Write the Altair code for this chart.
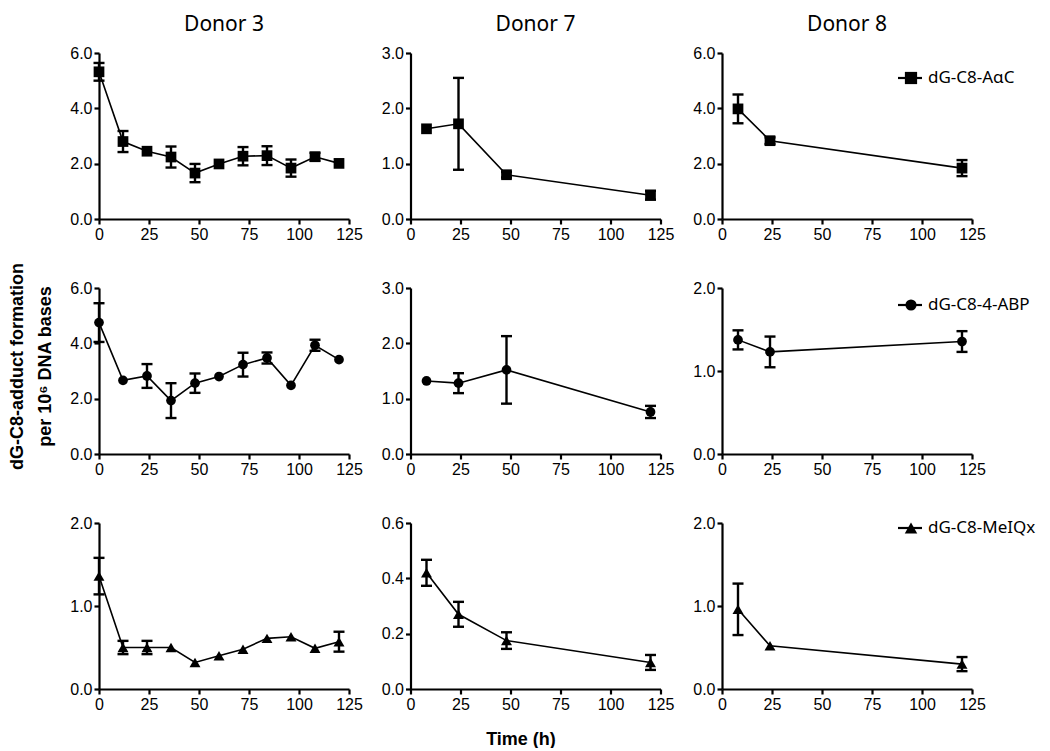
import altair as alt
import pandas as pd

donors = ["Donor 3", "Donor 7", "Donor 8"]
adducts = ["dG-C8-AαC", "dG-C8-4-ABP", "dG-C8-MeIQx"]
shapes = ["square", "circle", "triangle-up"]
sizes = [115, 95, 120]

t_d3 = [0, 12, 24, 36, 48, 60, 72, 84, 96, 108, 120]
t_d7 = [8, 24, 48, 120]
t_d8 = [8, 24, 120]

# dG-C8-AαC
aac_d3 = [5.32, 2.80, 2.45, 2.24, 1.66, 1.99, 2.27, 2.29, 1.84, 2.25, 2.01]
aac_d3_err = [0.32, 0.38, 0.0, 0.38, 0.33, 0.0, 0.33, 0.34, 0.31, 0.14, 0.0]
aac_d7 = [1.63, 1.72, 0.80, 0.43]
aac_d7_err = [0.0, 0.83, 0.05, 0.08]
aac_d8 = [3.98, 2.83, 1.84]
aac_d8_err = [0.52, 0.12, 0.29]

# dG-C8-4-ABP
abp_d3 = [4.75, 2.66, 2.82, 1.93, 2.56, 2.80, 3.23, 3.47, 2.48, 3.93, 3.41]
abp_d3_err = [0.70, 0.0, 0.43, 0.63, 0.35, 0.0, 0.43, 0.20, 0.0, 0.20, 0.0]
abp_d7 = [1.32, 1.28, 1.52, 0.76]
abp_d7_err = [0.0, 0.18, 0.61, 0.11]
abp_d8 = [1.375, 1.23, 1.355]
abp_d8_err = [0.115, 0.185, 0.125]

# dG-C8-MeIQx
meiqx_d3 = [1.36, 0.50, 0.50, 0.50, 0.32, 0.40, 0.48, 0.61, 0.63, 0.49, 0.57]
meiqx_d3_err = [0.22, 0.08, 0.08, 0.0, 0.0, 0.0, 0.0, 0.0, 0.0, 0.0, 0.12]
meiqx_d7 = [0.42, 0.27, 0.175, 0.096]
meiqx_d7_err = [0.047, 0.045, 0.03, 0.027]
meiqx_d8 = [0.96, 0.52, 0.30]
meiqx_d8_err = [0.31, 0.0, 0.085]

times = [t_d3, t_d7, t_d8]
means = [[aac_d3, aac_d7, aac_d8], [abp_d3, abp_d7, abp_d8], [meiqx_d3, meiqx_d7, meiqx_d8]]
errs = [[aac_d3_err, aac_d7_err, aac_d8_err], [abp_d3_err, abp_d7_err, abp_d8_err],
        [meiqx_d3_err, meiqx_d7_err, meiqx_d8_err]]

y_max = [[6, 3, 6], [6, 3, 2], [2, 0.6, 2]]
y_ticks = {6: [0, 2, 4, 6], 3: [0, 1, 2, 3], 2: [0, 1, 2], 0.6: [0, 0.2, 0.4, 0.6]}
x_ticks = [0, 25, 50, 75, 100, 125]
legend_y = [25, 17, 5]

W, H = 250, 166
LAB_FONT = "Liberation Sans"
TXT_FONT = "Noto Sans"


def panel(r, c):
    t = times[c]
    m = means[r][c]
    e = errs[r][c]
    df = pd.DataFrame({"time": t, "mean": m, "err": e})
    df["lo"] = df["mean"] - df["err"]
    df["hi"] = df["mean"] + df["err"]
    ymax = y_max[r][c]

    ytitle = ["dG-C8-adduct formation", "per 10⁶ DNA bases"] if (r == 1 and c == 0) else None
    xtitle = "Time (h)" if (r == 2 and c == 1) else None

    yaxis_kw = dict(values=y_ticks[ymax], format=".1f")
    if ytitle:
        yaxis_kw.update(title=ytitle, titleFont=LAB_FONT, titleFontSize=18, titleFontWeight="bold",
                        titleAngle=270, titleAlign="center", titleBaseline="alphabetic",
                        titleX=-77, titleY=78, titleLineHeight=28, titleColor="black")
    else:
        yaxis_kw.update(title=None)
    xaxis_kw = dict(values=x_ticks)
    if xtitle:
        xaxis_kw.update(title=xtitle, titleFont=LAB_FONT, titleFontSize=18, titleFontWeight="bold",
                        titleAlign="center", titleBaseline="alphabetic", titleX=110, titleY=55,
                        titleColor="black")
    else:
        xaxis_kw.update(title=None)

    x = alt.X("time:Q", scale=alt.Scale(domain=[0, 125], nice=False), axis=alt.Axis(**xaxis_kw))
    y = alt.Y("mean:Q", scale=alt.Scale(domain=[0, ymax], nice=False), axis=alt.Axis(**yaxis_kw))

    base = alt.Chart(df)
    line = base.mark_line(color="black", strokeWidth=1.6).encode(x=x, y=y)
    ebase = base.transform_filter("datum.err > 0")
    rule = ebase.mark_rule(color="black", strokeWidth=2.4).encode(
        x=alt.X("time:Q"), y=alt.Y("lo:Q"), y2="hi:Q")
    cap_hi = ebase.mark_tick(orient="horizontal", color="black", size=11, thickness=2.4, opacity=1).encode(
        x=alt.X("time:Q"), y=alt.Y("hi:Q"))
    cap_lo = ebase.mark_tick(orient="horizontal", color="black", size=11, thickness=2.4, opacity=1).encode(
        x=alt.X("time:Q"), y=alt.Y("lo:Q"))
    pts = base.mark_point(shape=shapes[r], filled=True, size=sizes[r], color="black", opacity=1).encode(x=x, y=y)
    layers = [line, rule, cap_hi, cap_lo, pts]

    if r == 0:
        tdf = pd.DataFrame({"label": [donors[c]]})
        layers.append(alt.Chart(tdf).mark_text(align="center", baseline="alphabetic", font=TXT_FONT,
                                               fontSize=21, color="black").encode(
            x=alt.value(W / 2), y=alt.value(-22), text="label:N"))

    if c == 2:
        ldf = pd.DataFrame({"label": [adducts[r]]})
        ly = legend_y[r]
        lb = alt.Chart(ldf)
        layers += [
            lb.mark_rule(color="black", strokeWidth=2.2).encode(x=alt.value(176), x2=alt.value(200), y=alt.value(ly)),
            lb.mark_point(shape=shapes[r], filled=True, size=sizes[r] * 1.3, color="black", opacity=1).encode(
                x=alt.value(189), y=alt.value(ly)),
            lb.mark_text(align="left", baseline="middle", font=TXT_FONT, fontSize=17, color="black").encode(
                x=alt.value(206), y=alt.value(ly), text="label:N"),
        ]

    return alt.layer(*layers).properties(width=W, height=H)


panels = [panel(r, c) for r in range(3) for c in range(3)]

chart = alt.concat(*panels, columns=3, spacing={"row": 69, "column": 61.5}, bounds="flush").properties(
    padding={"left": 0, "top": 6, "right": 0, "bottom": 0}
).configure_view(stroke=None).configure_axis(
    grid=False, domainColor="black", domainWidth=2.2, tickColor="black", tickWidth=2.2, tickSize=5,
    labelFont=LAB_FONT, labelFontSize=16, labelColor="black", labelPadding=2,
    labelFlush=False, labelOverlap=False
)

chart.save("out.html", embed_options={"renderer": "svg", "actions": False})
